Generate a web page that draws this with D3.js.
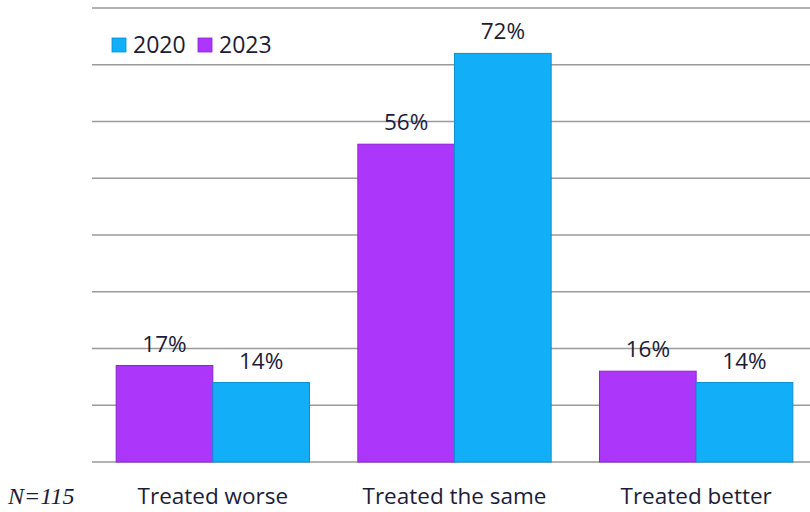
<!DOCTYPE html>
<html><head><meta charset="utf-8">
<script src="https://cdn.jsdelivr.net/npm/d3@7"></script>
<style>body{margin:0;background:#fff}svg{display:block}</style>
</head><body>
<svg id="c" width="810" height="512"></svg>
<script>
const categories = ["Treated worse", "Treated the same", "Treated better"];
const seriesNames = ["2023", "2020"];
const values2023 = [17, 56, 16];
const values2020 = [14, 72, 14];
const legendOrder = ["2020", "2023"];
const yTicks = [0, 10, 20, 30, 40, 50, 60, 70, 80];
const note = "N=115";

const colors = {"2023": "#AC36FA", "2020": "#12AEF8"};
const strokes = {"2023": "#8E22D6", "2020": "#0C90D0"};
const textColor = "#1c1c38";

const svg = d3.select("#c");
const plotLeft = 92, plotRight = 810, plotTop = 8, plotBottom = 462;

const y = d3.scaleLinear().domain([0, 80]).range([plotBottom, plotTop]);
const x0 = d3.scaleBand().domain(categories).range([plotLeft, 817]).paddingInner(0.2).paddingOuter(0.1);
const x1 = d3.scaleBand().domain(seriesNames).range([0, x0.bandwidth()]);

svg.append("g").selectAll("line").data(yTicks).join("line")
  .attr("x1", plotLeft).attr("x2", plotRight)
  .attr("y1", d => y(d)).attr("y2", d => y(d))
  .attr("stroke", "#9a9a9a").attr("stroke-width", 1.5);

const data = categories.map((c, i) => ({cat: c, vals: [{s: "2023", v: values2023[i]}, {s: "2020", v: values2020[i]}]}));

const g = svg.append("g").selectAll("g").data(data).join("g")
  .attr("transform", d => `translate(${x0(d.cat)},0)`);

g.selectAll("rect").data(d => d.vals).join("rect")
  .attr("x", d => x1(d.s)).attr("y", d => y(d.v))
  .attr("width", x1.bandwidth()).attr("height", d => y(0) - y(d.v))
  .attr("fill", d => colors[d.s]).attr("stroke", d => strokes[d.s]).attr("stroke-width", 1);

g.selectAll("text").data(d => d.vals).join("text")
  .attr("x", d => x1(d.s) + x1.bandwidth() / 2).attr("y", d => y(d.v) - 14)
  .attr("text-anchor", "middle").attr("fill", textColor)
  .style("font-family", "'Open Sans', sans-serif").style("font-size", "22.5px")
  .text(d => d.v + "%");

svg.append("g").selectAll("text").data(categories).join("text")
  .attr("x", d => x0(d) + x0.bandwidth() / 2).attr("y", 504)
  .attr("text-anchor", "middle").attr("fill", textColor)
  .style("font-family", "'Open Sans', sans-serif").style("font-size", "22.5px")
  .text(d => d);

svg.append("text").attr("x", 8).attr("y", 504)
  .attr("fill", textColor)
  .style("font-family", "'Liberation Serif', serif").style("font-style", "italic").style("font-size", "24px")
  .text(note);

const lg = svg.append("g");
const lx = [112, 198];
legendOrder.forEach((s, i) => {
  lg.append("rect").attr("x", lx[i]).attr("y", 38).attr("width", 14).attr("height", 14)
    .attr("fill", colors[s]).attr("stroke", strokes[s]).attr("stroke-width", 0.8);
  lg.append("text").attr("x", lx[i] + 21).attr("y", 53).attr("fill", textColor)
    .style("font-family", "'Open Sans', sans-serif").style("font-size", "23px").text(s);
});
</script>
</body></html>
